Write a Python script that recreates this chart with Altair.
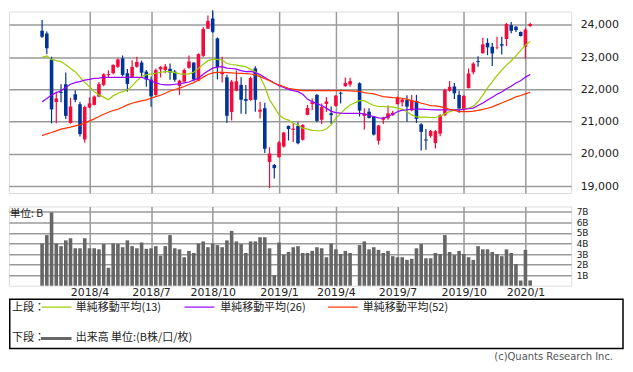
import altair as alt
import pandas as pd

# ---------------- data (weekly) ----------------
START = pd.Timestamp("2018-01-22")
# weekly bars (Monday of each week); no trading in Golden Week 2019
weeks = [d for d in pd.date_range("2018-01-22", "2020-01-13", freq="7D")
         if d != pd.Timestamp("2019-04-29")]

open_ = [23816, 23730, 22930, 21610, 21925, 22160, 20960, 21850, 21540, 20450,
         21440, 21520, 21780, 22140, 22440, 22500, 22700, 22960, 22500, 22370,
         22700, 22830, 22550, 22300, 21830, 22620, 22600, 22640, 22550, 22110,
         22240, 22670, 22830, 22270, 23040, 23880, 24195, 23580, 22470, 22370,
         21300, 21960, 22140, 21700, 21670, 22650, 21310, 21420, 19750, 19660,
         19900, 20230, 20870, 20750, 20870, 20440, 21210, 21550, 21830, 21060,
         21550, 21260, 21490, 21900, 22100, 22150,
         22190, 21180, 21310, 21160, 20410, 21060, 21110, 21210, 21540, 21600,
         21670, 21350, 21640, 20920, 20450, 20560, 20340, 20630, 21200, 21960,
         22090, 21830, 21390, 22040, 22530, 22880, 23120, 23440, 23320, 23280,
         23400, 23560, 23990, 23940, 23780, 23320, 23960]
high = [24150, 23794, 23012, 21930, 22158, 22520, 21740, 21970, 21620, 21500,
        21750, 21810, 22230, 22500, 22590, 22780, 22960, 23050, 22630, 22900,
        23010, 22890, 22600, 22400, 22650, 22720, 22790, 22800, 22600, 22300,
        22650, 23050, 22840, 23115, 23930, 24290, 24448, 23610, 23010, 22450,
        22290, 22583, 22380, 22140, 22400, 22720, 21620, 21590, 20210, 19690,
        20400, 20680, 20880, 20950, 20980, 20920, 21520, 21720, 21860, 21560,
        21760, 21470, 21830, 21930, 22370, 22360,
        22220, 21420, 21420, 21170, 20900, 21150, 21500, 21340, 21780, 21730,
        21820, 21830, 21830, 20950, 20770, 20740, 20740, 21230, 22020, 22260,
        22200, 21960, 21830, 22650, 22840, 23030, 23600, 23580, 23440, 23630,
        23630, 24060, 24090, 23960, 23790, 23900, 24060]
low = [23590, 23094, 20950, 20950, 21600, 21080, 20937, 21600, 20540, 20347,
       21420, 21500, 21760, 22100, 22380, 22470, 22660, 22410, 21930, 22350,
       22670, 22380, 22080, 21460, 21800, 22370, 22500, 22300, 22240, 21830,
       22200, 22640, 22250, 22250, 23000, 23870, 23750, 22310, 22210, 20971,
       21035, 21940, 21243, 21230, 21650, 21310, 21100, 20030, 18948, 19241,
       19890, 20200, 20420, 20370, 20300, 20420, 21200, 21360, 20980, 20930,
       21300, 20930, 21460, 21560, 22080, 22080,
       21160, 20750, 21100, 20570, 20290, 20930, 21060, 21180, 21540, 21470,
       21000, 21320, 20960, 20110, 20130, 20500, 20170, 20550, 21170, 21930,
       21700, 21276, 21340, 22030, 22470, 22700, 23100, 23060, 22726, 23240,
       23080, 23340, 23740, 23780, 23640, 22951, 23940]
close = [23631, 23274, 21382, 21720, 21892, 21181, 21469, 21676, 20617, 21454,
         21567, 21778, 22162, 22467, 22472, 22758, 22930, 22450, 22171, 22694,
         22851, 22516, 22304, 21788, 22597, 22697, 22712, 22525, 22298, 22270,
         22601, 22865, 22307, 23094, 23869, 24120, 23783, 22694, 22532, 21184,
         22243, 22250, 21680, 21646, 22351, 21679, 21374, 20166, 20015, 19561,
         20360, 20666, 20774, 20788, 20333, 20900, 21426, 21602, 21025, 21451,
         21627, 21205, 21807, 21870, 22200, 22258,
         21344, 21250, 21117, 20601, 20884, 21116, 21258, 21276, 21746, 21686,
         21467, 21658, 21087, 20685, 20419, 20711, 20704, 21199, 21988, 22079,
         21879, 21410, 21799, 22493, 22799, 22851, 23392, 23303, 23113, 23294,
         23354, 24023, 23816, 23837, 23657, 23850, 24025]
volume_b = [4.0, 4.8, 6.95, 4.0, 3.75, 4.3, 4.5, 3.55, 3.55, 4.5,
            3.55, 3.55, 3.45, 3.95, 1.7, 4.0, 3.95, 3.65, 4.3, 3.75,
            3.55, 4.1, 3.5, 3.55, 3.75, 2.85, 3.75, 4.8, 3.55, 3.45,
            2.7, 3.3, 3.1, 4.0, 4.2, 3.65, 4.0, 3.85, 3.65, 4.3,
            5.2, 4.2, 3.95, 3.1, 4.2, 4.2, 4.6, 4.6, 3.55, 1.0,
            4.1, 2.95, 3.2, 3.65, 3.75, 3.1, 3.1, 3.3, 3.65, 3.55,
            2.7, 4.0, 3.45, 3.0, 3.3, 3.1,
            3.85, 4.2, 3.45, 3.65, 3.4, 3.1, 3.3, 2.8, 2.7, 2.7,
            2.45, 2.55, 3.55, 3.95, 2.6, 2.6, 3.1, 3.0, 4.8, 3.2,
            2.9, 3.3, 3.0, 2.7, 2.45, 3.75, 3.45, 3.45, 3.2, 3.0,
            2.8, 3.45, 3.1, 2.05, 0.5, 3.4, 0.5]
ma13 = [22990, 23040, 22930, 22890, 22860, 22760, 22650, 22550, 22380, 22210,
        22090, 21930, 21830, 21760, 21680, 21800, 21880, 21930, 21980, 22100,
        22270, 22400, 22450, 22480, 22500, 22530, 22550, 22550, 22520, 22480,
        22470, 22480, 22530, 22650, 22780, 22890, 22930, 22930, 22910, 22800,
        22770, 22750, 22730, 22700, 22620, 22550, 22400, 22090, 21680, 21450,
        21210, 21100, 21050, 20950, 20900, 20800, 20770, 20730, 20720, 20720,
        20780, 20900, 21110, 21250, 21400, 21520,
        21650, 21650, 21570, 21500, 21470, 21470, 21460, 21460, 21420, 21380,
        21310, 21210, 21150, 21140, 21140, 21130, 21130, 21170, 21250, 21310,
        21360, 21380, 21390, 21420, 21480, 21617, 21825, 22047, 22231, 22431,
        22596, 22753, 22887, 23037, 23210, 23368, 23486]
ma26 = [21620, 21720, 21830, 21900, 21960, 22060, 22160, 22210, 22240, 22290,
        22310, 22340, 22350, 22370, 22375, 22375, 22375, 22375, 22375, 22375,
        22375, 22370, 22330, 22270, 22200, 22160, 22140, 22140, 22160, 22170,
        22200, 22230, 22289, 22344, 22469, 22572, 22657, 22692, 22706, 22657,
        22648, 22629, 22581, 22550, 22557, 22518, 22461, 22370, 22282, 22197,
        22111, 22060, 22000, 21960, 21930, 21850, 21700, 21620, 21560, 21500,
        21420, 21320, 21280, 21265, 21260, 21260,
        21260, 21240, 21200, 21160, 21120, 21110, 21160, 21230, 21310, 21360,
        21370, 21385, 21390, 21390, 21380, 21370, 21366, 21366, 21366, 21366,
        21366, 21366, 21380, 21400, 21420, 21500, 21580, 21670, 21760, 21850,
        21920, 22020, 22100, 22200, 22270, 22380, 22460]
ma52 = [20570, 20625, 20666, 20717, 20769, 20800, 20831, 20872, 20903, 20954,
        21026, 21088, 21160, 21232, 21294, 21345, 21386, 21448, 21520, 21572,
        21613, 21644, 21675, 21726, 21777, 21818, 21880, 21952, 21990, 22040,
        22090, 22150, 22210, 22290, 22380, 22460, 22510, 22525, 22529, 22520,
        22510, 22500, 22498, 22490, 22477, 22450, 22395, 22330, 22271, 22200,
        22138, 22090, 22035, 22010, 21983, 21963, 21963, 21963, 21963, 21963,
        21963, 21963, 21963, 21960, 21960, 21955,
        21940, 21901, 21880, 21860, 21820, 21777, 21760, 21746, 21736, 21726,
        21700, 21644, 21620, 21572, 21540, 21500, 21490, 21469, 21430, 21386,
        21350, 21314, 21314, 21314, 21330, 21350, 21380, 21417, 21460, 21520,
        21580, 21640, 21700, 21770, 21810, 21860, 21911]

tick_dates = ["2018-04-02", "2018-07-02", "2018-10-01", "2019-01-07",
              "2019-04-01", "2019-07-01", "2019-10-07", "2020-01-06"]
tick_labels = ["2018/4", "2018/7", "2018/10", "2019/1",
               "2019/4", "2019/7", "2019/10", "2020/1"]
price_ticks = [19000, 20000, 21000, 22000, 23000, 24000]
volume_ticks = [1, 2, 3, 4, 5, 6, 7]
ma_keys = ["ma13", "ma26", "ma52"]
ma_labels = ["単純移動平均(13)", "単純移動平均(26)", "単純移動平均(52)"]

# ---------------- build ----------------
idx = [(d - START).days // 7 for d in weeks]
df = pd.DataFrame(dict(idx=idx, open=open_, high=high, low=low, close=close,
                       vol=volume_b, ma13=ma13, ma26=ma26, ma52=ma52))
df["up"] = df["close"] >= df["open"]
tick_idx = [(pd.Timestamp(t) - START).days // 7 for t in tick_dates]
label_expr = " : ".join(f"datum.value == {i} ? '{l}'" for i, l in zip(tick_idx, tick_labels)) + " : ''"

RED = "#f50a3c"
BLUE = "#003399"
GRID = "#9a9a9a"
MA_COLORS = ["#99cc00", "#9900ff", "#ff3300"]
NUMFONT = "DejaVu Sans"
JP = "Noto Sans CJK JP"

xscale = alt.Scale(domain=[-5.93, 110.6], nice=False, zero=False)
yscale = alt.Scale(domain=[18793, 24410], nice=False, zero=False)

x_top = alt.X("idx:Q", scale=xscale, title=None,
              axis=alt.Axis(values=tick_idx, labels=False, ticks=False, domain=False,
                            grid=True, gridColor=GRID, gridWidth=1.5))
y_price_axis = alt.Axis(orient="right", values=price_ticks,
                        labelExpr="format(datum.value, ',')", grid=True,
                        gridColor=GRID, gridWidth=1.5, ticks=False, domain=False,
                        labelPadding=9, labelFont=NUMFONT, labelFontSize=11,
                        labelColor="#222", title=None)
col = alt.condition("datum.up", alt.value(RED), alt.value(BLUE))

base = alt.Chart(df)
wicks = base.mark_rule(strokeWidth=1.2).encode(
    x=x_top, y=alt.Y("low:Q", scale=yscale, axis=y_price_axis), y2="high:Q", color=col)
bodies = base.mark_bar(size=3.6).encode(
    x=x_top, y=alt.Y("open:Q", scale=yscale, axis=y_price_axis), y2="close:Q", color=col)
lines = base.transform_fold(ma_keys, as_=["ma", "value"]).mark_line(strokeWidth=1.2).encode(
    x=x_top, y=alt.Y("value:Q", scale=yscale, axis=y_price_axis),
    color=alt.Color("ma:N", scale=alt.Scale(domain=ma_keys, range=MA_COLORS), legend=None),
    detail="ma:N")
price = alt.layer(wicks, bodies, lines).properties(width=564, height=182)

x_bot = alt.X("idx:Q", scale=xscale, title=None,
              axis=alt.Axis(values=tick_idx, labelExpr=label_expr, grid=True, gridColor=GRID,
                            gridWidth=1.5, ticks=False, domain=False, labelPadding=1,
                            labelFont=NUMFONT, labelFontSize=11, labelColor="#222"))
vol_bars = base.mark_bar(size=3.6, color="#666666").encode(
    x=x_bot,
    y=alt.Y("vol:Q", scale=alt.Scale(domain=[0, 7.52], nice=False), title=None,
            axis=alt.Axis(orient="right", values=volume_ticks, labelExpr="datum.value + 'B'",
                          grid=True, gridColor=GRID, gridWidth=1.5, ticks=False, domain=False,
                          labelPadding=5, labelFont=NUMFONT, labelFontSize=9, labelColor="#222")))

one = alt.Data(values=[{"k": 0}])


def txt(s, x, y, font=JP, size=11, color="#222", align="left"):
    return alt.Chart(one).mark_text(text=s, align=align, baseline="middle", font=font,
                                    fontSize=size, color=color).encode(
        x=alt.value(x), y=alt.value(y))


def hline(x1, x2, y, color, w):
    return alt.Chart(one).mark_rule(color=color, strokeWidth=w).encode(
        x=alt.value(x1), x2=alt.value(x2), y=alt.value(y))


# positions below are relative to the volume panel's top-left corner
decor = [txt("単位: B", 1, 7.5, size=10.5)]
decor.append(alt.Chart(one).mark_rect(fill="white", stroke="#000", strokeWidth=1.5).encode(
    x=alt.value(0.75), x2=alt.value(616), y=alt.value(93), y2=alt.value(142.5)))
decor.append(txt("上段：", 3, 101.5))
for lx, tx, lab, c in zip([32.7, 176, 320], [67, 212, 355], ma_labels, MA_COLORS):
    decor.append(hline(lx, lx + 30, 101, c, 1.2))
    decor.append(txt(lab, tx, 101.5))
decor.append(txt("下段：", 3, 132.5))
decor.append(hline(32, 62.7, 132.5, "#666666", 3))
decor.append(txt("出来高 単位:(B株/口/枚)", 67, 132.5))
decor.append(txt("(c)Quants Research Inc.", 606, 151, font=NUMFONT, size=10,
                 color="#555", align="right"))

volume = alt.layer(vol_bars, *decor).properties(width=564, height=79.5)

chart = alt.vconcat(price, volume, spacing=11.5).properties(
    padding=0
).configure_view(stroke=GRID, strokeWidth=1.5).configure(background="white")

chart.save("out.html", embed_options={"renderer": "svg", "actions": False})
